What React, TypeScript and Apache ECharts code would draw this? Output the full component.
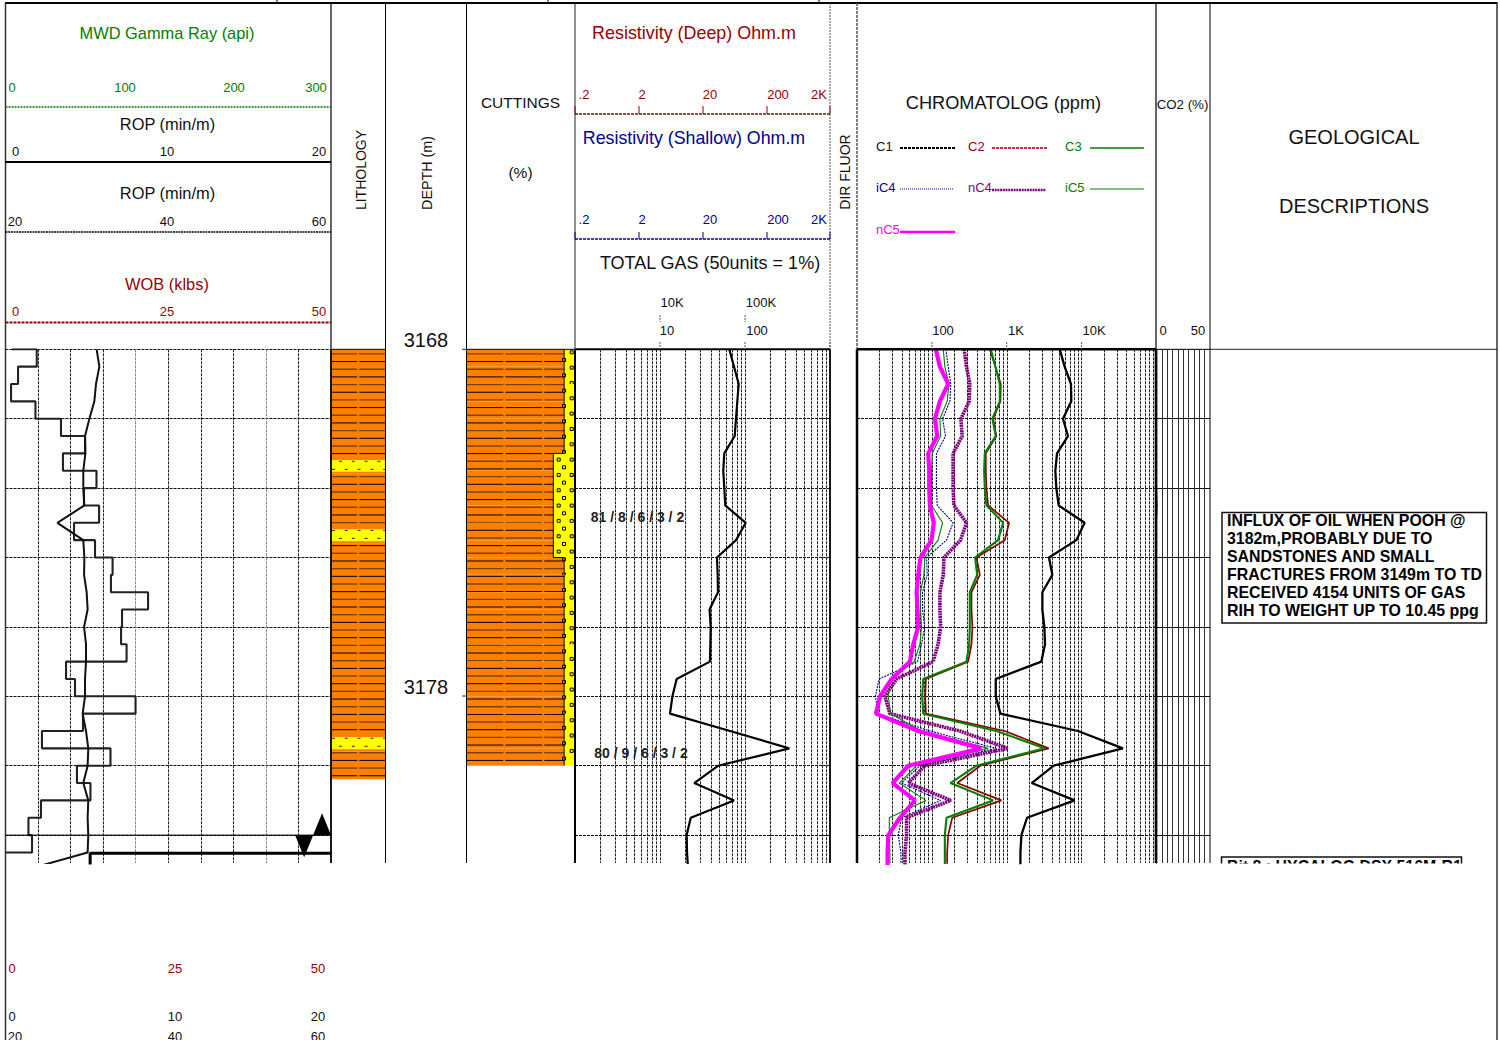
import React, { useEffect, useRef } from "react";
import * as echarts from "echarts";

const FONT = '"Liberation Sans", Arial, sans-serif';

// ---------- depth index (m) ----------
const depths = [3168, 3168.5, 3169, 3169.5, 3170, 3170.5, 3171, 3171.5, 3172, 3172.5, 3173, 3173.5, 3174, 3174.5, 3175, 3175.5, 3176, 3176.5, 3177, 3177.5, 3178, 3178.5, 3179, 3179.5, 3180, 3180.5, 3181, 3181.5, 3182, 3182.5, 3183];

// ---------- curves ----------
const ropStub = 0.4;
const rop = [1.92, 0.77, 0.34, 1.84, 3.41, 4.89, 3.53, 5.59, 4.82, 5.75, 4.21, 5.5, 6.58, 6.48, 8.76, 7.16, 7.1, 7.44, 3.72, 4.27, 7.99, 4.76, 2.24, 6.45, 4.39, 5.22, 2.18, 1.41, 1.63, 0];
const gamma = [84, 86.5, 83.4, 81.9, 77.3, 73.3, 73.6, 71.7, 71.7, 72.7, 47.8, 71.7, 72.7, 72.4, 74.8, 75.7, 72.4, 74.2, 74.2, 73.3, 73.3, 71.1, 74.2, 76.3, 75.7, 71.7, 76.3, 75.7, 76.3, 75.7, 18.9];
const totalGas = [65.4, 74.2, 84.3, 81.2, 78.4, 75.6, 57.1, 55.5, 57.1, 58.6, 102, 78.4, 46.8, 47.7, 48.1, 38.3, 39.5, 39.1, 38.7, 15.7, 14, 13.1, 66.6, 332, 48.5, 25.3, 74.2, 23, 20.6, 20.8, 21.4];
const c1 = [5090, 5934, 7208, 7281, 5638, 6574, 4690, 4455, 4595, 4935, 10965, 8490, 3667, 4063, 2989, 2989, 3178, 3244, 2899, 713, 713, 823, 8935, 35570, 4233, 2154, 8065, 1867, 1569, 1522, 1522];
const c2 = [593, 706, 832, 823, 657, 728, 525, 525, 536, 564, 1074, 940, 394, 437, 338, 338, 348, 338, 305, 83.2, 81.5, 83.2, 940, 3631, 445, 218, 849, 187, 165, 160, 160];
const c3 = [612, 706, 807, 807, 644, 713, 509, 499, 509, 536, 894, 766, 378, 402, 321, 321, 321, 315, 290, 76.6, 74.3, 76.6, 728, 3211, 394, 177, 657, 157, 149, 149, 149];
const ic4 = [154, 165, 179, 174, 139, 152, 115, 115, 115, 118, 192, 157, 84.9, 86.6, 75.1, 75.1, 79.9, 72.8, 64.4, 19.8, 17.6, 19.2, 94, 728, 69.2, 39.4, 131, 39.4, 35.6, 38.6, 38.6];
const nc4 = [270, 290, 321, 315, 244, 254, 192, 192, 192, 197, 290, 241, 145, 142, 128, 128, 131, 121, 104, 33.8, 23.6, 27.5, 236, 1042, 80.7, 48.4, 179, 45.9, 45.9, 43.7, 43.7];
const ic5 = [142, 149, 169, 160, 128, 131, 101, 99, 99, 99, 139, 121, 80.7, 78.2, 70.6, 70.6, 72.8, 69.2, 58.1, 28.1, 26.2, 28.1, 72.8, 564, 62.5, 36.7, 83.2, 27, 27, 27.5, 27.5];
const nc5 = [113, 128, 165, 128, 110, 118, 89.4, 92.1, 92.1, 94, 106, 99, 70.6, 65.7, 62.5, 64.4, 65.7, 56.4, 50.9, 29, 20.3, 17.9, 65.7, 459, 48.4, 29.9, 59.3, 37.4, 26.2, 25.6, 25.6];
const co2 = [0, 0, 0, 0, 0, 0, 0, 0, 0, 1, 0, 0, 0, 0, 0, 0, 0, 0, 0, 0, 0, 0, 0, 0, 0, 0, 0, 0, 0, 0, 0];

// ---------- lithology column ----------
const lithoTop = [3168, 3171.2, 3171.59, 3173.19, 3173.59, 3179.18, 3179.58];
const lithoBase = [3171.2, 3171.59, 3173.19, 3173.59, 3179.18, 3179.58, 3180.39];
const lithoIsSand = [0, 1, 0, 1, 0, 1, 0];

// ---------- cuttings percentages per 0.5 m sample ----------
const clayPct = [90, 90, 90, 90, 90, 90, 80, 80, 80, 80, 80, 80, 90, 90, 90, 90, 90, 90, 90, 90, 90, 90, 90, 90];
const sandPct = [10, 10, 10, 10, 10, 10, 20, 20, 20, 20, 20, 20, 10, 10, 10, 10, 10, 10, 10, 10, 10, 10, 10, 10];

// ---------- bit / trip markers ----------
const tripLineX = [20, 5.2, 5.2];
const tripLineDepth = [3182.52, 3182.52, 3183];
const thinMarkX = [0, 20];
const thinMarkDepth = [3182, 3182];
const casingDownX = 18.35;
const casingDownDepth = 3182.32;
const casingUpX = 19.45;
const casingUpDepth = 3181.69;

// ---------- log grid values ----------
const gasGrid = [2, 3, 4, 5, 6, 7, 8, 9, 10, 20, 30, 40, 50, 60, 70, 80, 90, 100, 200, 300, 400, 500, 600, 700, 800, 900];
const chromGrid = [20, 30, 40, 50, 60, 70, 80, 90, 100, 200, 300, 400, 500, 600, 700, 800, 900, 1000, 2000, 3000, 4000, 5000, 6000, 7000, 8000, 9000, 10000, 20000, 30000, 40000, 50000, 60000, 70000, 80000, 90000];

// ---------- labels ----------
const gammaTicks = ["0", "100", "200", "300"];
const rop1Ticks = ["0", "10", "20"];
const rop2Ticks = ["20", "40", "60"];
const wobTicks = ["0", "25", "50"];
const resTicks = [".2", "2", "20", "200", "2K"];
const gasTicksTop = ["10K", "100K"];
const gasTicksBottom = ["10", "100"];
const chromTicks = ["100", "1K", "10K"];
const co2Ticks = ["0", "50"];
const depthLabels = ["3168", "3178"];
const noteLines = [
  "INFLUX OF OIL WHEN POOH @",
  "3182m,PROBABLY DUE TO",
  "SANDSTONES AND SMALL",
  "FRACTURES FROM 3149m TO TD",
  "RECEIVED 4154 UNITS OF GAS",
  "RIH TO WEIGHT UP TO 10.45 ppg",
];
const bitNote = "Bit 8 : HYCALOG DSX 516M-R1";
const ratio1 = "81 / 8 / 6 / 3 / 2";
const ratio2 = "80 / 9 / 6 / 3 / 2";

const GREEN = "#008000";
const RED = "#990000";
const NAVY = "#000099";
const PURPLE = "#800080";
const MAGENTA = "#ff00ff";
const INK = "#111";
const ORANGE = "#ff8000";
const YELLOW = "#ffff00";

const TOP = 349.3;
const BOTTOM = 863;
const DEPTH_MIN = 3168;
const DEPTH_MAX = 3182.804;

function txt(text: string, x: number, y: number, size: number, fill = INK, opts: any = {}) {
  return {
    type: "text",
    x,
    y,
    z: 60,
    silent: true,
    rotation: opts.rotation || 0,
    style: {
      text,
      fill,
      font: `${opts.bold ? "bold " : ""}${size}px ${FONT}`,
      textAlign: opts.align || "center",
      textVerticalAlign: "middle",
      verticalAlign: "middle",
    },
  };
}

function ln(x1: number, y1: number, x2: number, y2: number, stroke = "#000", lineWidth = 1, lineDash?: number[], z = 50) {
  return {
    type: "line",
    z,
    silent: true,
    shape: { x1, y1, x2, y2 },
    style: { stroke, lineWidth, lineDash },
  };
}

function yAxisFor(gridIndex: number, mode: "dash" | "solid" | "none" = "dash") {
  return {
    type: "value",
    gridIndex,
    inverse: true,
    min: DEPTH_MIN,
    max: DEPTH_MAX,
    interval: 2,
    axisLine: { show: false },
    axisTick: { show: false },
    axisLabel: { show: false },
    splitLine: {
      show: mode !== "none",
      showMaxLine: false,
      lineStyle: { color: "#111", width: 1, type: mode === "solid" ? "solid" : [3, 1] },
    },
  };
}

function xHidden(gridIndex: number, extra: any = {}) {
  return {
    type: "value",
    gridIndex,
    min: 0,
    max: 100,
    axisLine: { show: false },
    axisTick: { show: false },
    axisLabel: { show: false },
    splitLine: { show: false },
    ...extra,
  };
}

function curve(name: string, values: number[], xAxisIndex: number, yAxisIndex: number, color: string, width: number, type: any = "solid", extra: any = {}) {
  return {
    type: "line",
    name,
    xAxisIndex,
    yAxisIndex,
    data: values.map((v, i) => [v, depths[i]]),
    symbol: "none",
    showSymbol: false,
    clip: true,
    z: 3,
    lineStyle: { color, width, type },
    ...extra,
  };
}

function logLines(values: number[]) {
  return {
    silent: true,
    symbol: "none",
    z: 1,
    animation: false,
    label: { show: false },
    lineStyle: { color: "#222", width: 1, type: [3, 1] },
    data: values.map((v) => ({ xAxis: v })),
  };
}

function clayPattern(api: any, xLeft: number, xRight: number, top: number, base: number, breaks: number[]) {
  const zero = api.coord([0, DEPTH_MIN])[1];
  const out: any[] = [];
  for (let k = 0; k < 60; k++) {
    const y = zero + 4.6 + 7.67 * k;
    if (y < top || y >= base) continue;
    const stroke = k % 2 === 0 ? "#7a4200" : "#000";
    const lineWidth = k % 2 === 0 ? 1.4 : 1;
    const edges = [xLeft, ...breaks, xRight];
    for (let b = 0; b < edges.length - 1; b++) {
      out.push({
        type: "line",
        shape: { x1: edges[b] + (b ? 1 : 0), y1: y, x2: edges[b + 1] - (b < edges.length - 2 ? 1 : 0), y2: y },
        style: { stroke, lineWidth },
      });
    }
  }
  return out;
}

function renderLitho(_params: any, api: any) {
  const top = api.coord([0, api.value(0)]);
  const base = api.coord([100, api.value(1)]);
  const isSand = api.value(2) === 1;
  const children: any[] = [
    { type: "rect", shape: { x: top[0], y: top[1], width: base[0] - top[0], height: base[1] - top[1] }, style: { fill: isSand ? YELLOW : ORANGE } },
  ];
  if (isSand) {
    [0, 1].forEach((row) => {
      for (let c = 0; c < 5; c++) {
        const x = top[0] + 1 + (row === (api.value(0) < 3172 ? 0 : 1) ? 7 : 0) + c * 12.8;
        const y = top[1] + 1 + row * 8;
        children.push({ type: "line", shape: { x1: x, y1: y, x2: x + 3, y2: y }, style: { stroke: "#222", lineWidth: 1 } });
      }
    });
    children.push({ type: "rect", shape: { x: top[0], y: base[1] - 2, width: base[0] - top[0], height: 2 }, style: { fill: ORANGE } });
  } else {
    children.push(...clayPattern(api, top[0], base[0], top[1], base[1], [(top[0] + base[0]) / 2]));
  }
  return { type: "group", children };
}

function renderCuttings(_params: any, api: any) {
  const d0 = api.value(0);
  const d1 = api.value(1);
  const clay = api.value(2);
  const sand = api.value(3);
  const a = api.coord([0, d0]);
  const b = api.coord([clay, d1]);
  const c = api.coord([clay + sand, d1]);
  const zero = api.coord([0, DEPTH_MIN])[1];
  const children: any[] = [
    { type: "rect", shape: { x: a[0], y: a[1], width: b[0] - a[0], height: b[1] - a[1] }, style: { fill: ORANGE } },
    { type: "rect", shape: { x: b[0], y: a[1], width: c[0] - b[0], height: b[1] - a[1] }, style: { fill: YELLOW } },
  ];
  children.push(...clayPattern(api, a[0], b[0], a[1], b[1], [a[0] + 37.8, a[0] + 76.8]));
  for (let k = 0; k < 30; k++) {
    const ya = zero + 3 + 15.33 * k;
    const yb = zero + 10.7 + 15.33 * k;
    const dots: number[][] = [];
    if (ya >= a[1] && ya < b[1]) {
      dots.push([c[0] - 3.3, ya]);
      if (clay < 85) dots.push([c[0] - 16.3, ya]);
    }
    if (yb >= a[1] && yb < b[1]) dots.push([c[0] - 11, yb]);
    dots.forEach((p) => {
      children.push({
        type: "rect",
        shape: { x: p[0] - 1.5, y: p[1] - 1.5, width: 3, height: 3 },
        style: { fill: YELLOW, stroke: "#000", lineWidth: 1 },
      });
    });
  }
  return { type: "group", children };
}

function buildGraphic() {
  const g: any[] = [];
  // top rule and frame
  g.push(ln(5, 3, 1497.5, 3, "#000", 2));
  [277, 548, 819].forEach((x) => g.push(ln(x, 0, x, 3, "#000", 1)));
  g.push(ln(5.5, 3, 5.5, 1040, "#333", 1.5));
  g.push(ln(1497, 3, 1497, 1040, "#333", 1.5));
  g.push(ln(331, 3, 331, TOP, "#000", 1.2));
  g.push(ln(331, TOP, 331, BOTTOM, "#000", 1.8));
  g.push(ln(385.5, 3, 385.5, BOTTOM, "#000", 1));
  g.push(ln(466.5, 3, 466.5, BOTTOM, "#000", 1));
  g.push(ln(575, 3, 575, TOP, "#222", 1));
  g.push(ln(575, TOP, 575, BOTTOM, "#000", 2));
  g.push(ln(830, 3, 830, TOP, "#555", 1, [2, 1]));
  g.push(ln(830, TOP, 830, BOTTOM, "#000", 1.8));
  g.push(ln(857, 3, 857, TOP, "#555", 1.5, [3, 1]));
  g.push(ln(857, TOP, 857, BOTTOM, "#000", 2.5));
  g.push(ln(1156, 3, 1156, TOP, "#333", 1.5));
  g.push(ln(1156, TOP, 1156, BOTTOM, "#000", 2.6));
  g.push(ln(1210, 3, 1210, BOTTOM, "#000", 1));
  g.push(ln(331, TOP, 385.5, TOP, "#000", 1));
  g.push(ln(466.5, TOP, 575, TOP, "#000", 1));
  g.push(ln(575, TOP, 830, TOP, "#000", 2));
  g.push(ln(857, TOP, 1156, TOP, "#000", 2.5));
  g.push(ln(1156, TOP, 1497, TOP, "#222", 1));
  g.push(ln(462, TOP, 466.5, TOP, "#333", 1));
  g.push(ln(462, 696, 466.5, 696, "#333", 1));

  // left track header
  g.push(txt("MWD Gamma Ray (api)", 167, 33, 16.4, GREEN));
  [12, 125, 234, 316].forEach((x, i) => g.push(txt(gammaTicks[i], x, 87, 13, GREEN)));
  g.push(ln(5.5, 107, 331, 107, GREEN, 1.5, [2, 1]));
  g.push(txt("ROP (min/m)", 167.5, 124, 16.4));
  [15.5, 167, 319].forEach((x, i) => g.push(txt(rop1Ticks[i], x, 151, 13)));
  g.push(ln(5.5, 162, 331, 162, "#000", 2));
  g.push(txt("ROP (min/m)", 167.5, 193, 16.4));
  [15, 167, 319].forEach((x, i) => g.push(txt(rop2Ticks[i], x, 221, 13)));
  g.push(ln(5.5, 232, 331, 232, "#000", 1.5, [2, 0.7]));
  g.push(txt("WOB (klbs)", 167, 284, 16.4, RED));
  [15.5, 167, 319].forEach((x, i) => g.push(txt(wobTicks[i], x, 311, 13, RED)));
  g.push(ln(5.5, 322.5, 331, 322.5, RED, 2, [3, 1]));

  g.push(txt("LITHOLOGY", 360.5, 170, 14, INK, { rotation: Math.PI / 2 }));
  g.push(txt("DEPTH (m)", 427, 173, 14.3, INK, { rotation: Math.PI / 2 }));
  g.push(txt("DIR FLUOR", 845, 172, 14, INK, { rotation: Math.PI / 2 }));
  [340, 687].forEach((y, i) => g.push(txt(depthLabels[i], 426, y, 20)));

  g.push(txt("CUTTINGS", 520.5, 102.7, 15.5));
  g.push(txt("(%)", 520.5, 172.5, 15.5));

  // resistivity / gas header
  g.push(txt("Resistivity (Deep) Ohm.m", 694, 33, 17.9, RED));
  [584, 642, 710, 778, 819].forEach((x, i) => g.push(txt(resTicks[i], x, 94.5, 13, RED)));
  g.push(ln(575, 114, 830, 114, RED, 1.6, [3, 1]));
  [575, 639, 703, 767, 830].forEach((x) => g.push(ln(x, 106, x, 114, RED, 1)));
  g.push(txt("Resistivity (Shallow) Ohm.m", 694, 138, 17.8, NAVY));
  [584, 642, 710, 778, 819].forEach((x, i) => g.push(txt(resTicks[i], x, 219.5, 13, NAVY)));
  g.push(ln(575, 239, 830, 239, NAVY, 1.6, [3, 1]));
  [575, 639, 703, 767, 830].forEach((x) => g.push(ln(x, 232, x, 239, NAVY, 1)));
  g.push(txt("TOTAL GAS (50units = 1%)", 710, 263, 18));
  [672, 761].forEach((x, i) => g.push(txt(gasTicksTop[i], x, 302.5, 13)));
  [667, 757].forEach((x, i) => g.push(txt(gasTicksBottom[i], x, 330.5, 13)));
  [660, 745].forEach((x) => g.push(ln(x, 315, x, 322, "#555", 1, [2, 1])));
  [660, 745, 830].forEach((x) => g.push(ln(x, 342, x, TOP, "#555", 1, [2, 1])));

  // chromatolog header
  g.push(txt("CHROMATOLOG (ppm)", 1003.5, 103, 18.2));
  g.push(txt("C1", 876, 146, 13, INK, { align: "left" }));
  g.push(ln(900, 148, 955, 148, "#000", 2, [3, 1]));
  g.push(txt("C2", 968, 146, 13, RED, { align: "left" }));
  g.push(ln(992, 148, 1048, 148, RED, 1.5, [3, 1]));
  g.push(txt("C3", 1065, 146, 13, GREEN, { align: "left" }));
  g.push(ln(1090, 148, 1144, 148, GREEN, 1.5));
  g.push(txt("iC4", 876, 187, 13, NAVY, { align: "left" }));
  g.push(ln(900, 189, 954, 189, NAVY, 1, [1, 1]));
  g.push(txt("nC4", 968, 187, 13, PURPLE, { align: "left" }));
  g.push(ln(992, 190, 1046, 190, PURPLE, 2.5, [2, 0.7]));
  g.push(txt("iC5", 1065, 187, 13, GREEN, { align: "left" }));
  g.push(ln(1090, 189, 1144, 189, GREEN, 1));
  g.push(txt("nC5", 876, 229, 13, MAGENTA, { align: "left" }));
  g.push(ln(900, 232, 955, 232, MAGENTA, 2.5));
  [943, 1016, 1094].forEach((x, i) => g.push(txt(chromTicks[i], x, 330.5, 13)));
  [932, 1006.7, 1081.6].forEach((x) => g.push(ln(x, 342, x, TOP, "#555", 1, [2, 1])));

  g.push(txt("CO2 (%)", 1182.5, 104, 13.3));
  [1163, 1198].forEach((x, i) => g.push(txt(co2Ticks[i], x, 330.5, 13)));

  g.push(txt("GEOLOGICAL", 1354, 137, 20));
  g.push(txt("DESCRIPTIONS", 1354, 206, 20));

  // ratios
  g.push(txt(ratio1, 637.5, 517, 14, "#222", { bold: true }));
  g.push(txt(ratio2, 641, 753, 14, "#222", { bold: true }));

  // remarks
  g.push({ type: "rect", z: 55, silent: true, shape: { x: 1222, y: 512.5, width: 264.5, height: 110.5 }, style: { fill: "#fff", stroke: "#111", lineWidth: 1.5 } });
  noteLines.forEach((t, i) => g.push(txt(t, 1227, 520.5 + 18 * i, 15.9, "#000", { align: "left", bold: true })));
  g.push({ type: "rect", z: 55, silent: true, shape: { x: 1221.5, y: 857, width: 240, height: 30 }, style: { fill: "#fff", stroke: "#111", lineWidth: 1.5 } });
  g.push(txt(bitNote, 1227, 866, 15.9, "#000", { align: "left", bold: true }));
  g.push({ type: "rect", z: 70, silent: true, shape: { x: 1212, y: 863.5, width: 283, height: 40 }, style: { fill: "#fff" } });

  // repeated footer scales
  [12, 175, 318].forEach((x, i) => g.push(txt(wobTicks[i], x, 968, 13, RED)));
  [12, 175, 318].forEach((x, i) => g.push(txt(rop1Ticks[i], x, 1016, 13)));
  [15, 175, 318].forEach((x, i) => g.push(txt(rop2Ticks[i], x, 1036, 13)));
  return g;
}

function buildOption() {
  const gridBox = (left: number, right: number) => ({ left, top: TOP, width: right - left, height: BOTTOM - TOP, show: false });
  const grey = "#888";
  const k = "#222";
  const rowTop = clayPct.map((_, i) => depths[i]);
  const rowBase = clayPct.map((_, i) => depths[i + 1]);
  return {
    animation: false,
    backgroundColor: "#fff",
    textStyle: { fontFamily: FONT },
    grid: [gridBox(5.5, 331), gridBox(331, 385.5), gridBox(466.5, 575), gridBox(575, 830), gridBox(857, 1156.5), gridBox(1156.5, 1210)],
    xAxis: [
      xHidden(0, {
        min: 0,
        max: 20,
        interval: 2,
        splitLine: { show: true, showMinLine: false, showMaxLine: false, lineStyle: { color: [k, k, k, grey, k, k, k, grey, k, k, k], width: 1, type: [3, 1] } },
      }),
      xHidden(0, { max: 300 }),
      xHidden(1),
      xHidden(2),
      xHidden(3, { type: "log", logBase: 10, min: 1, max: 1000 }),
      xHidden(4, { type: "log", logBase: 10, min: 10, max: 100000 }),
      xHidden(5, {
        interval: 10,
        splitLine: { show: true, showMinLine: false, showMaxLine: false, lineStyle: { color: "#333", width: 1 } },
      }),
    ],
    yAxis: [yAxisFor(0), yAxisFor(1, "none"), yAxisFor(2, "none"), yAxisFor(3), yAxisFor(4), yAxisFor(5, "solid")],
    series: [
      curve("ROP", [ropStub, ...rop], 0, 0, "#222", 2.1, "solid", {
        data: [[ropStub, depths[0]], ...rop.map((v, i) => [v, depths[i]])],
        step: "start",
      }),
      curve("MWD Gamma Ray", gamma, 1, 0, "#111", 2),
      {
        type: "line",
        name: "Bit mark",
        xAxisIndex: 0,
        yAxisIndex: 0,
        symbol: "none",
        data: thinMarkX.map((v, i) => [v, thinMarkDepth[i]]),
        lineStyle: { color: "#000", width: 1 },
      },
      {
        type: "line",
        name: "Trip",
        xAxisIndex: 0,
        yAxisIndex: 0,
        symbol: "none",
        z: 4,
        data: tripLineX.map((v, i) => [v, tripLineDepth[i]]),
        lineStyle: { color: "#000", width: 3 },
      },
      {
        type: "scatter",
        name: "Casing",
        xAxisIndex: 0,
        yAxisIndex: 0,
        symbol: "triangle",
        symbolSize: [18, 22],
        z: 4,
        itemStyle: { color: "#000", opacity: 1 },
        data: [
          { value: [casingDownX, casingDownDepth], symbolRotate: 180 },
          { value: [casingUpX, casingUpDepth] },
        ],
      },
      {
        type: "custom",
        name: "Lithology",
        xAxisIndex: 2,
        yAxisIndex: 1,
        clip: true,
        z: 3,
        renderItem: renderLitho,
        data: lithoTop.map((t, i) => [t, lithoBase[i], lithoIsSand[i]]),
      },
      {
        type: "custom",
        name: "Cuttings",
        xAxisIndex: 3,
        yAxisIndex: 2,
        clip: true,
        z: 3,
        renderItem: renderCuttings,
        data: clayPct.map((c, i) => [rowTop[i], rowBase[i], c, sandPct[i]]),
      },
      {
        type: "line",
        name: "Cuttings edge",
        xAxisIndex: 3,
        yAxisIndex: 2,
        symbol: "none",
        step: "start",
        z: 4,
        lineStyle: { color: "#000", width: 1 },
        data: [...clayPct.map((c, i) => [c, rowTop[i]]), [clayPct[clayPct.length - 1], rowBase[rowBase.length - 1]]],
      },
      curve("Total gas", totalGas, 4, 3, "#000", 2.2, "solid", { markLine: logLines(gasGrid) }),
      curve("C1", c1, 5, 4, "#000", 2.3, "solid", { markLine: logLines(chromGrid) }),
      curve("C2", c2, 5, 4, "#8b0000", 1.7),
      curve("C3", c3, 5, 4, GREEN, 2.1),
      curve("iC4", ic4, 5, 4, NAVY, 1.1, [2, 1]),
      curve("nC4", nc4, 5, 4, PURPLE, 3.6, [2, 0.6]),
      curve("iC5", ic5, 5, 4, GREEN, 1.1),
      curve("nC5", nc5, 5, 4, MAGENTA, 4.2),
      curve("CO2", co2, 6, 5, "#000", 1.2),
    ],
    graphic: { elements: buildGraphic() },
  };
}

export default function App() {
  const ref = useRef<HTMLDivElement | null>(null);
  useEffect(() => {
    if (!ref.current) return;
    const chart = echarts.init(ref.current, undefined, { renderer: "svg" });
    chart.setOption(buildOption() as any);
    return () => chart.dispose();
  }, []);
  return <div ref={ref} style={{ position: "fixed", left: 0, top: 0, width: 1500, height: 1040, background: "#fff" }} />;
}
